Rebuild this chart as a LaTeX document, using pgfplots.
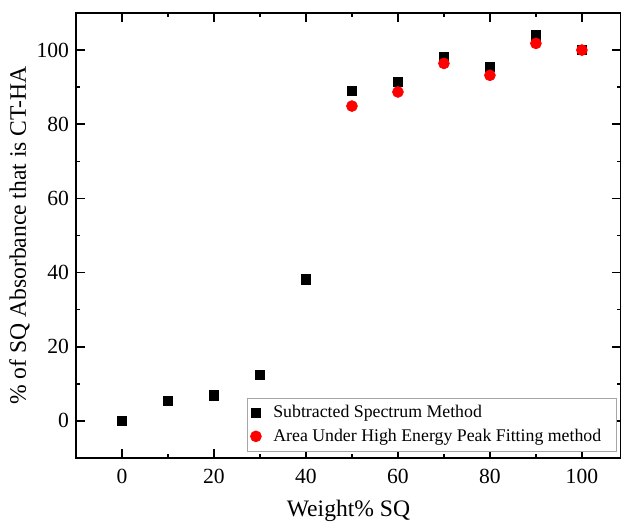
\documentclass[border=0pt]{standalone}
\usepackage{fontspec}
\setmainfont{Liberation Serif}
\usepackage{pgfplots}
\pgfplotsset{compat=1.18}
\begin{document}
\begin{tikzpicture}
\begin{axis}[
    scale only axis,
    width=272.5pt, height=222.5pt,
    xmin=-10, xmax=108.5,
    ymin=-10, ymax=110,
    xtick={0,20,...,100},
    ytick={0,20,...,100},
    minor tick num=1,
    tick align=inside,
    major tick length=4.5pt,
    minor tick length=2.2pt,
    axis line style={line width=0.9pt},
    every tick/.style={line width=0.8pt, black},
    tick label style={font=\rmfamily\fontsize{10.8}{12}\selectfont},
    xticklabel style={yshift=-2pt},
    /pgf/number format/assume math mode=true,
    xlabel={Weight\% SQ},
    ylabel={\% of SQ Absorbance that is CT-HA},
    label style={font=\rmfamily\fontsize{11.8}{13}\selectfont},
    xlabel style={yshift=-1.5pt},
    ylabel style={yshift=-3.5pt},
    legend style={at={(0.314,0.135)}, anchor=north west, draw=gray!70,
        line width=0.4pt, font=\rmfamily\fontsize{8.9}{10}\selectfont,
        row sep=0pt, inner sep=1.5pt,
        nodes={inner xsep=6pt}},
    legend cell align=left,
]
\addplot[only marks, mark=square*, mark size=2.4pt, black] coordinates {
    (0,0) (10,5.4) (20,6.8) (30,12.4) (40,38.1) (50,89.0)
    (60,91.4) (70,98.2) (80,95.5) (90,103.9) (100,100)
};
\addlegendentry{Subtracted Spectrum Method}
\addplot[only marks, mark=*, mark size=2.7pt, red, mark options={draw=red, fill=red}] coordinates {
    (50,84.9) (60,88.7) (70,96.4) (80,93.2) (90,101.8) (100,100)
};
\addlegendentry{Area Under High Energy Peak Fitting method}
\end{axis}
\pgfresetboundingbox
\useasboundingbox ([xshift=-38pt,yshift=-32pt]current axis.south west) rectangle ([yshift=6.5pt]current axis.north east);
\end{tikzpicture}
\end{document}
